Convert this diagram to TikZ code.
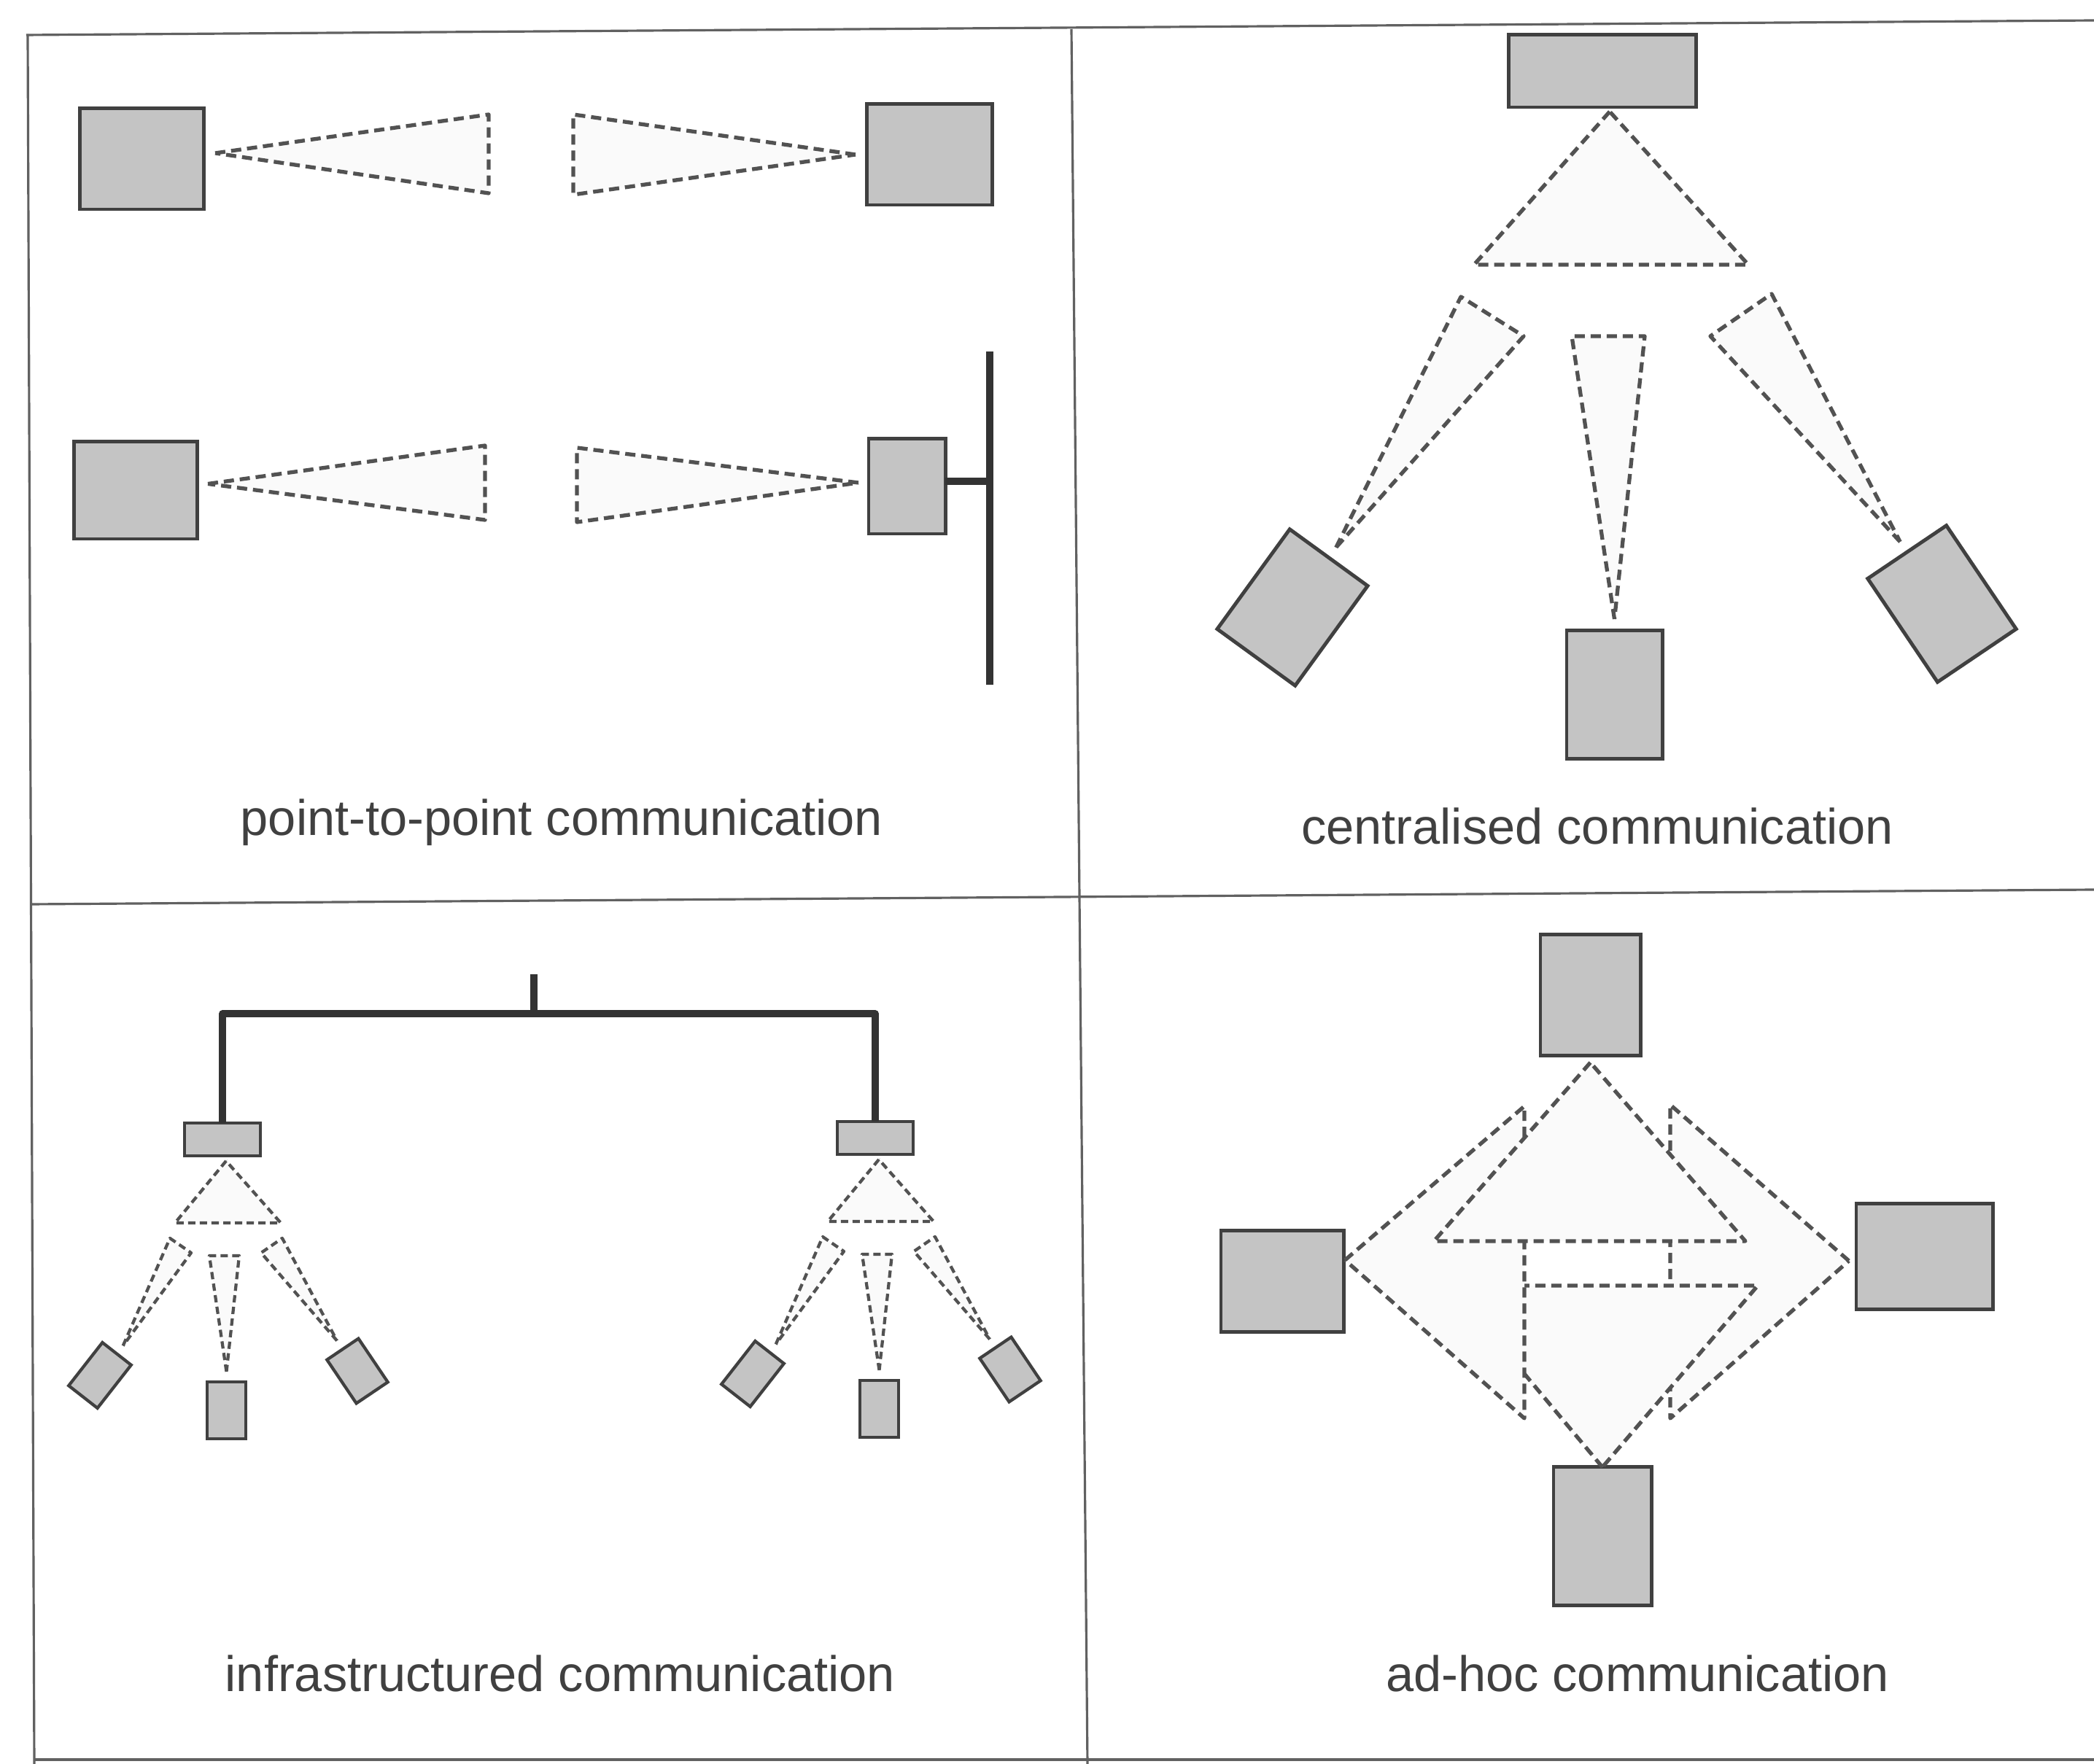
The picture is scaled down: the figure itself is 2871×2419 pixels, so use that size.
\documentclass[tikz,border=0pt]{standalone}
\usepackage{fontspec}
\setmainfont{Liberation Sans}
\usetikzlibrary{calc}
\begin{document}
\begin{tikzpicture}[x=0.01cm,y=-0.01cm]
\tikzset{
  frameline/.style={draw=black!62,line width=0.9pt},
  station/.style={draw=black!75,fill=black!23,line width=1.4pt,inner sep=0pt,outer sep=0pt},
  smallstation/.style={station,line width=1.2pt},
  cone/.style={draw=black!68,fill=black!2,line width=1.5pt,dash pattern=on 0.14cm off 0.08cm,line join=round},
  smallcone/.style={cone,line width=1.2pt,dash pattern=on 0.1cm off 0.06cm},
  wire/.style={draw=black!80,line width=2.6pt,line join=round},
  caption/.style={anchor=base,text=black!75,font=\fontsize{19.5}{23}\selectfont,inner sep=0pt},
}
\fill[white] (0,0) rectangle (2871,2419);
\useasboundingbox (0,0) rectangle (2871,2419);

% ---------- frame ----------
\draw[frameline] (36,48) -- (2871,28);
\draw[frameline] (38,47) -- (47,2419);
\draw[frameline] (1469,40) -- (1491,2419);
\draw[frameline] (43,1240) -- (2871,1220);
\draw[frameline] (47,2413) -- (2871,2413);

% ---------- point-to-point ----------
\node[station,minimum width=1.69cm,minimum height=1.38cm] (pa) at (194.5,218) {};
\node[station,minimum width=1.71cm,minimum height=1.38cm] (pb) at (1274.5,212) {};
\node[station,minimum width=1.68cm,minimum height=1.33cm] (pc) at (186,672.5) {};
\node[station,minimum width=1.05cm,minimum height=1.30cm] (pd) at (1243.5,667) {};

\coordinate (pa-tip) at ([xshift=0.16cm,yshift=0.08cm]pa.east);
\coordinate (pa-1) at (670,157);
\coordinate (pa-2) at (670,265);
\coordinate (pb-tip) at ([xshift=-0.16cm]pb.west);
\coordinate (pb-1) at (786,157);
\coordinate (pb-2) at (786,267);
\coordinate (pc-tip) at ([xshift=0.15cm,yshift=0.09cm]pc.east);
\coordinate (pc-1) at (665,611);
\coordinate (pc-2) at (665,713);
\coordinate (pd-tip) at ([xshift=-0.14cm,yshift=0.05cm]pd.west);
\coordinate (pd-1) at (791,614);
\coordinate (pd-2) at (791,716);

\draw[cone] (pa-tip) -- (pa-1) -- (pa-2) -- cycle;
\draw[cone] (pb-tip) -- (pb-1) -- (pb-2) -- cycle;
\draw[cone] (pc-tip) -- (pc-1) -- (pc-2) -- cycle;
\draw[cone] (pd-tip) -- (pd-1) -- (pd-2) -- cycle;

% wired backbone of the fourth station
\coordinate (bar-top) at (1357,482);
\coordinate (bar-bot) at (1357,939);
\draw[wire] (bar-top) -- (bar-bot);
\draw[wire] ([yshift=0.07cm]pd.east) -- ([yshift=0.07cm]pd.east -| bar-top);

\node[caption] (cap-p2p) at (770,1146) {point-to-point communication};

% ---------- centralised ----------
\node[station,minimum width=2.56cm,minimum height=0.99cm] (hub) at (2197,97.5) {};
\node[station,minimum width=1.32cm,minimum height=1.69cm,rotate=-36] (c1) at (1772,833) {};
\node[station,minimum width=1.31cm,minimum height=1.75cm] (c2) at (2213.5,952.5) {};
\node[station,minimum width=1.30cm,minimum height=1.71cm,rotate=34] (c3) at (2662.5,828) {};

\coordinate (hub-tip) at ([xshift=0.1cm,yshift=-0.06cm]hub.south);
\coordinate (hub-1) at (2021,363);
\coordinate (hub-2) at (2397,363);
\coordinate (c1-tip) at ($(c1.north)!-0.17cm!(c1.center)$);
\coordinate (c1-1) at (2003,407);
\coordinate (c1-2) at (2089,461);
\coordinate (c2-tip) at ($(c2.north)!-0.16cm!(c2.center)$);
\coordinate (c2-1) at (2155,461);
\coordinate (c2-2) at (2255,461);
\coordinate (c3-tip) at ($(c3.north)!-0.17cm!(c3.center)$);
\coordinate (c3-1) at (2345,461);
\coordinate (c3-2) at (2429,403);

\draw[cone] (hub-tip) -- (hub-1) -- (hub-2) -- cycle;
\draw[cone] (c1-tip) -- (c1-1) -- (c1-2) -- cycle;
\draw[cone] (c2-tip) -- (c2-1) -- (c2-2) -- cycle;
\draw[cone] (c3-tip) -- (c3-1) -- (c3-2) -- cycle;

\node[caption] (cap-cen) at (2190,1158) {centralised communication};

% ---------- infrastructured ----------
\foreach \g/\dx/\dy in {L/0/0, R/895/-2} {
  \begin{scope}[shift={(\dx,\dy)}]
    \node[smallstation,minimum width=1.04cm,minimum height=0.45cm] (\g-ap) at (305,1562.5) {};
    \node[smallstation,minimum width=0.50cm,minimum height=0.75cm,rotate=-38] (\g-a) at (137,1886) {};
    \node[smallstation,minimum width=0.53cm,minimum height=0.78cm] (\g-b) at (310.5,1934) {};
    \node[smallstation,minimum width=0.52cm,minimum height=0.72cm,rotate=34] (\g-c) at (490,1880) {};

    \coordinate (\g-tip) at ([xshift=0.05cm,yshift=-0.07cm]\g-ap.south);
    \coordinate (\g-t1) at (240,1677);
    \coordinate (\g-t2) at (385,1677);
    \coordinate (\g-atip) at ($(\g-a.north)!-0.14cm!(\g-a.center)$);
    \coordinate (\g-a1) at (233,1698);
    \coordinate (\g-a2) at (262,1718);
    \coordinate (\g-btip) at ($(\g-b.north)!-0.14cm!(\g-b.center)$);
    \coordinate (\g-b1) at (287,1722);
    \coordinate (\g-b2) at (328,1722);
    \coordinate (\g-ctip) at ($(\g-c.north)!-0.14cm!(\g-c.center)$);
    \coordinate (\g-c1) at (358,1718);
    \coordinate (\g-c2) at (387,1698);

    \draw[smallcone] (\g-tip) -- (\g-t1) -- (\g-t2) -- cycle;
    \draw[smallcone] (\g-atip) -- (\g-a1) -- (\g-a2) -- cycle;
    \draw[smallcone] (\g-btip) -- (\g-b1) -- (\g-b2) -- cycle;
    \draw[smallcone] (\g-ctip) -- (\g-c1) -- (\g-c2) -- cycle;
  \end{scope}
}

\coordinate (bus-top) at (732,1336);
\coordinate (bus-mid) at (732,1390);
\draw[wire] (L-ap.north) |- (bus-mid) -| (R-ap.north);
\draw[wire] (bus-mid) -- (bus-top);

\node[caption] (cap-inf) at (768,2319) {infrastructured communication};

% ---------- ad-hoc ----------
\node[station,minimum width=1.37cm,minimum height=1.65cm] (ht) at (2180.5,1364.5) {};
\node[station,minimum width=1.68cm,minimum height=1.38cm] (hl) at (1758,1757) {};
\node[station,minimum width=1.87cm,minimum height=1.44cm] (hr) at (2638.5,1723) {};
\node[station,minimum width=1.34cm,minimum height=1.89cm] (hb) at (2197,2106.5) {};

\coordinate (hr-tip) at ([xshift=-0.1cm,yshift=-0.06cm]hr.west);
\coordinate (hr-1) at (2290,1515);
\coordinate (hr-2) at (2290,1945);
\coordinate (hb-tip) at (hb.north);
\coordinate (hb-1) at (1989,1763);
\coordinate (hb-2) at (2410,1763);
\coordinate (hl-tip) at ([xshift=0.02cm,yshift=0.29cm]hl.east);
\coordinate (hl-1) at (2090,1517);
\coordinate (hl-2) at (2090,1945);
\coordinate (ht-tip) at ([yshift=-0.1cm]ht.south);
\coordinate (ht-1) at (1966,1702);
\coordinate (ht-2) at (2393,1702);

% stacking order: right, bottom, left, top
\draw[cone] (hr-tip) -- (hr-1) -- (hr-2) -- cycle;
\draw[cone] (hb-tip) -- (hb-1) -- (hb-2) -- cycle;
\draw[cone] (hl-tip) -- (hl-1) -- (hl-2) -- cycle;
\draw[cone] (ht-tip) -- (ht-1) -- (ht-2) -- cycle;

\node[caption] (cap-adh) at (2245,2319) {ad-hoc communication};
\end{tikzpicture}
\end{document}
